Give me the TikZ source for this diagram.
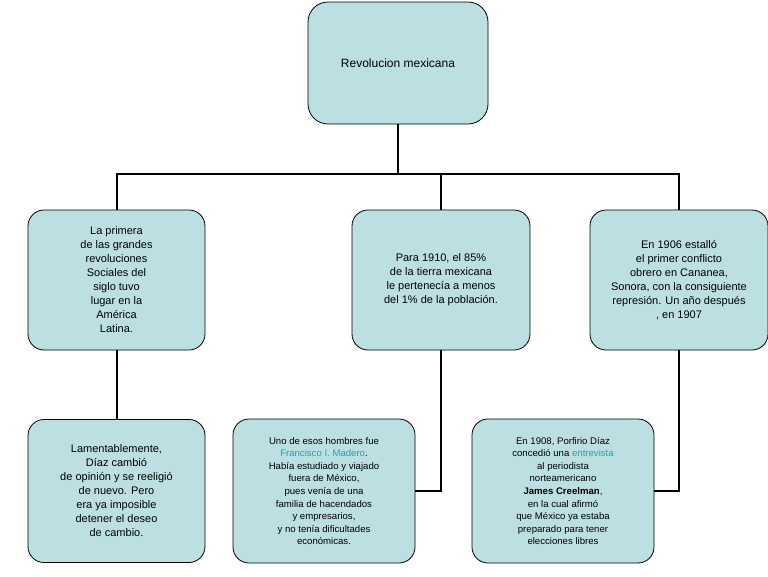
\documentclass[tikz,border=0pt]{standalone}
\usepackage{fontspec}
\setmainfont{Liberation Sans}
\usetikzlibrary{positioning}
\definecolor{boxfill}{RGB}{188,224,226}
\definecolor{linktext}{RGB}{40,160,170}
\begin{document}
\begin{tikzpicture}[
        x=1pt, y=-1pt,
        card/.style={draw, thick, fill=boxfill, rounded corners=16pt, align=center,
            inner sep=1pt, font=\fontsize{11}{14}\selectfont},
        small/.style={card, font=\fontsize{9.6}{12.6}\selectfont},
        link/.style={line width=2pt}
    ]
    \useasboundingbox (0,0) rectangle (768,576);

    \node[card, minimum width=180pt, minimum height=122pt, rounded corners=20pt,
        font=\fontsize{12}{14}\selectfont] (top) at (398,63) {Revolucion mexicana};

    \node[card, minimum width=177pt, minimum height=140pt] (left) at (116.5,280)
        {La primera\\de las grandes\\revoluciones\\Sociales del\\siglo tuvo\\lugar en la\\América\\Latina.};
    \node[card, minimum width=178pt, minimum height=140pt] (mid) at (441,280)
        {Para 1910, el 85\%\\de la tierra mexicana\\le pertenecía a menos\\del 1\% de la población.};
    \node[card, minimum width=178pt, minimum height=140pt] (right) at (679,280)
        {En 1906 estalló\\el primer conflicto\\obrero en Cananea,\\Sonora, con la consiguiente\\represión. Un año después\\, en 1907};

    \node[card, minimum width=177pt, minimum height=143pt] (leftb) at (116.5,491)
        {Lamentablemente,\\Díaz cambió\\de opinión y se reeligió\\de nuevo. Pero\\era ya imposible\\detener el deseo\\de cambio.};
    \node[small, minimum width=182pt, minimum height=144pt] (midb) at (324,491)
        {Uno de esos hombres fue\\\textcolor{linktext}{Francisco I. Madero}.\\Había estudiado y viajado\\fuera de México,\\pues venía de una\\familia de hacendados\\y empresarios,\\y no tenía dificultades\\económicas.};
    \node[small, minimum width=182pt, minimum height=144pt] (rightb) at (563,491)
        {En 1908, Porfirio Díaz\\concedió una \textcolor{linktext}{entrevista}\\al periodista\\norteamericano\\\textbf{James Creelman},\\en la cual afirmó\\que México ya estaba\\preparado para tener\\elecciones libres};

    \coordinate (bar) at (398,174);
    \draw[link] (top.south) -- (bar);
    \draw[link] (left.north) |- (bar) -| (right.north);
    \draw[link] (bar) -| (mid.north);
    \draw[link] (left.south) -- (leftb.north);
    \draw[link] (mid.south) |- (midb.east);
    \draw[link] (right.south) |- (rightb.east);
\end{tikzpicture}
\end{document}
